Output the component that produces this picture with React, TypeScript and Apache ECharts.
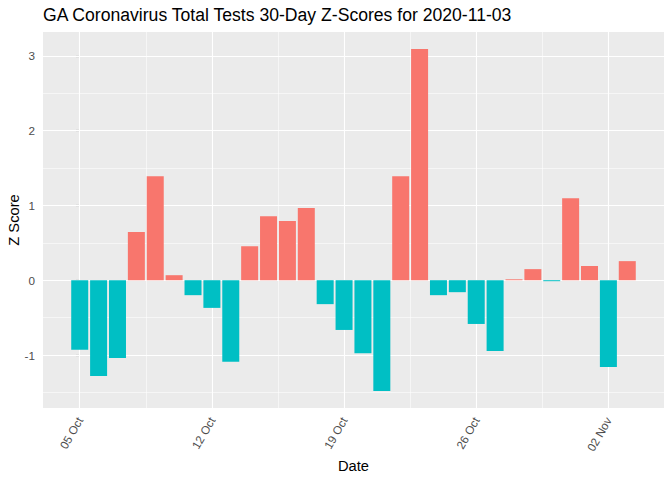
import React, { useEffect, useRef } from "react";
import * as echarts from "echarts";

const dates = [
  "2020-10-05", "2020-10-06", "2020-10-07", "2020-10-08", "2020-10-09", "2020-10-10",
  "2020-10-11", "2020-10-12", "2020-10-13", "2020-10-14", "2020-10-15", "2020-10-16",
  "2020-10-17", "2020-10-18", "2020-10-19", "2020-10-20", "2020-10-21", "2020-10-22",
  "2020-10-23", "2020-10-24", "2020-10-25", "2020-10-26", "2020-10-27", "2020-10-28",
  "2020-10-29", "2020-10-30", "2020-10-31", "2020-11-01", "2020-11-02", "2020-11-03",
];

const zScores = [
  -0.93, -1.28, -1.04, 0.645, 1.39, 0.067, -0.2, -0.37, -1.09, 0.455,
  0.855, 0.79, 0.965, -0.32, -0.665, -0.975, -1.48, 1.39, 3.09, -0.2,
  -0.16, -0.585, -0.945, 0.012, 0.148, -0.013, 1.095, 0.19, -1.16, 0.255,
];

const xTickDates = ["2020-10-05", "2020-10-12", "2020-10-19", "2020-10-26", "2020-11-02"];
const xTickLabels = ["05 Oct", "12 Oct", "19 Oct", "26 Oct", "02 Nov"];
const xMinorDates = ["2020-10-08T12:00:00Z", "2020-10-15T12:00:00Z", "2020-10-22T12:00:00Z", "2020-10-29T12:00:00Z"];
const yTicks = [-1, 0, 1, 2, 3];
const yMinor = [-1.5, -0.5, 0.5, 1.5, 2.5];

const POS = "#F8766D";
const NEG = "#00BFC4";

const DAY = 86400000;
const t0 = Date.parse(dates[0] + "T00:00:00Z");
const dayOf = (s: string) => (Date.parse(s.length > 10 ? s : s + "T00:00:00Z") - t0) / DAY;

export default function App() {
  const ref = useRef<HTMLDivElement>(null);
  useEffect(() => {
    if (!ref.current) return;
    const chart = echarts.init(ref.current, null, { renderer: "svg" });
    const xs = dates.map(dayOf);
    const xlo = Math.min(...xs) - 0.45;
    const xhi = Math.max(...xs) + 0.45;
    const xpad = (xhi - xlo) * 0.05;
    const ylo = Math.min(0, ...zScores);
    const yhi = Math.max(0, ...zScores);
    const ypad = (yhi - ylo) * 0.05;
    const xMajor = xTickDates.map(dayOf);
    const xMinor = xMinorDates.map(dayOf);
    const font = "Liberation Sans, Arial, sans-serif";

    const gridLines: any[] = [
      ...yMinor.map((v) => ({ yAxis: v, lineStyle: { width: 0.55 } })),
      ...xMinor.map((v) => ({ xAxis: v, lineStyle: { width: 0.55 } })),
      ...yTicks.map((v) => ({ yAxis: v, lineStyle: { width: 1.1 } })),
      ...xMajor.map((v) => ({ xAxis: v, lineStyle: { width: 1.1 } })),
    ];

    chart.setOption({
      animation: false,
      backgroundColor: "#FFFFFF",
      title: {
        text: "GA Coronavirus Total Tests 30-Day Z-Scores for 2020-11-03",
        left: 43,
        top: 6,
        padding: 0,
        textStyle: { fontFamily: font, fontSize: 17.6, fontWeight: "normal", color: "#000000" },
      },
      grid: {
        left: 43,
        right: 8,
        top: 32,
        bottom: 72,
        show: true,
        backgroundColor: "#EBEBEB",
        borderWidth: 0,
        outerBoundsMode: "none",
      },
      xAxis: {
        type: "value",
        min: xlo - xpad,
        max: xhi + xpad,
        name: "Date",
        nameLocation: "middle",
        nameGap: 50,
        nameMoveOverlap: false,
        nameTextStyle: { fontFamily: font, fontSize: 14.7, color: "#000000" },
        axisLine: { show: false },
        splitLine: { show: false },
        axisTick: {
          show: true,
          customValues: xMajor,
          length: 4,
          lineStyle: { color: "#333333", width: 1.1 },
        },
        axisLabel: {
          customValues: xMajor,
          rotate: 60,
          margin: 10,
          padding: [22, 0, 0, 0],
          fontFamily: font,
          fontSize: 11.7,
          color: "#4D4D4D",
          formatter: (v: number) => {
            const i = xMajor.findIndex((m) => Math.abs(m - v) < 1e-6);
            return i >= 0 ? xTickLabels[i] : "";
          },
        },
      },
      yAxis: {
        type: "value",
        min: ylo - ypad,
        max: yhi + ypad,
        name: "Z Score",
        nameLocation: "middle",
        nameRotate: 90,
        nameGap: 22,
        nameMoveOverlap: false,
        nameTextStyle: { fontFamily: font, fontSize: 14.7, color: "#000000" },
        axisLine: { show: false },
        splitLine: { show: false },
        axisTick: {
          show: true,
          customValues: yTicks,
          length: 4,
          lineStyle: { color: "#333333", width: 1.1 },
        },
        axisLabel: {
          customValues: yTicks,
          margin: 8,
          fontFamily: font,
          fontSize: 11.7,
          color: "#4D4D4D",
          formatter: (v: number) => String(Math.round(v)),
        },
      },
      series: [
        {
          type: "line",
          data: [],
          z: 1,
          silent: true,
          markLine: {
            silent: true,
            z: 1,
            symbol: ["none", "none"],
            label: { show: false },
            lineStyle: { color: "#FFFFFF", type: "solid" },
            data: gridLines,
          },
        },
        {
          type: "bar",
          z: 3,
          barWidth: 17,
          data: xs.map((x, i) => ({
            value: [x, zScores[i]],
            itemStyle: { color: zScores[i] >= 0 ? POS : NEG },
          })),
        },
      ],
    });
    return () => chart.dispose();
  }, []);
  return (
    <div
      ref={ref}
      style={{ position: "fixed", left: 0, top: 0, width: 672, height: 480 }}
    />
  );
}
